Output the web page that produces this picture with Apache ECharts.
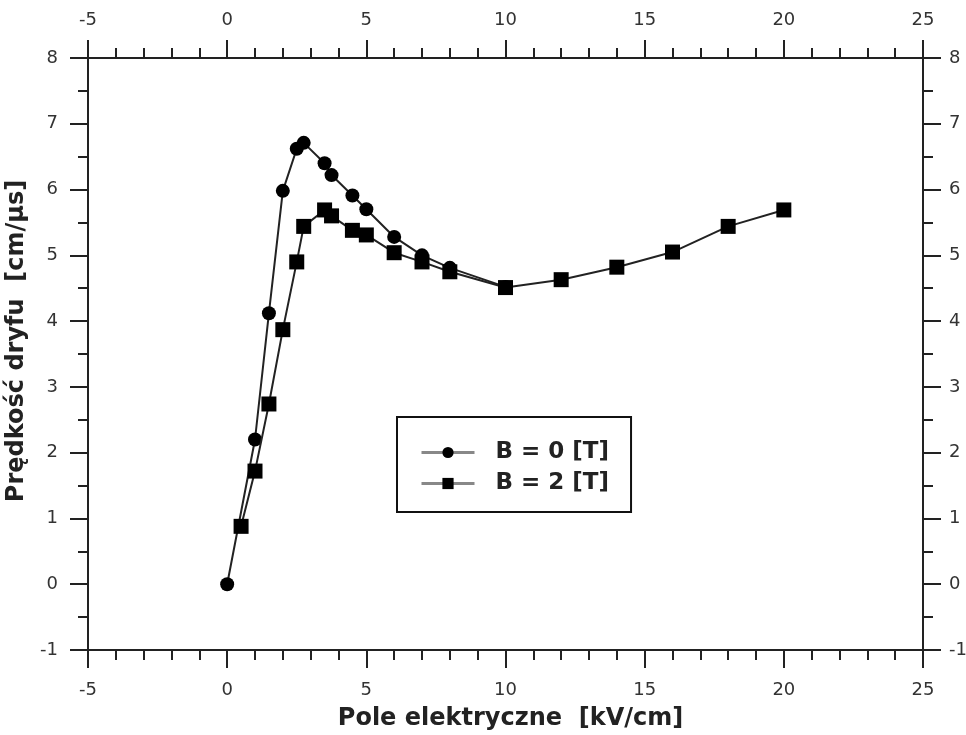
<!DOCTYPE html>
<html>
<head>
<meta charset="utf-8">
<script src="https://cdn.jsdelivr.net/npm/echarts@6/dist/echarts.min.js"></script>
<style>
  html, body { margin: 0; padding: 0; background: #fff; }
  #chart { width: 966px; height: 735px; }
</style>
</head>
<body>
<div id="chart"></div>
<script>
// Electric field [kV/cm] and drift velocity [cm/µs]
const fieldB0 = [0, 1, 1.5, 2, 2.5, 2.75, 3.5, 3.75, 4.5, 5, 6, 7, 8, 10];
const velocityB0 = [0, 2.20, 4.12, 5.98, 6.62, 6.71, 6.40, 6.22, 5.91, 5.70, 5.28, 5.00, 4.81, 4.52];

const fieldB2 = [0.5, 1, 1.5, 2, 2.5, 2.75, 3.5, 3.75, 4.5, 5, 6, 7, 8, 10, 12, 14, 16, 18, 20];
const velocityB2 = [0.88, 1.72, 2.74, 3.87, 4.90, 5.44, 5.69, 5.60, 5.38, 5.31, 5.04, 4.90, 4.75, 4.51, 4.63, 4.82, 5.05, 5.44, 5.69];

const seriesNames = ['B = 0 [T]', 'B = 2 [T]'];
const xTitle = 'Pole elektryczne  [kV/cm]';
const yTitle = 'Prędkość dryfu  [cm/μs]';

const pairs = (xs, ys) => xs.map((x, i) => [x, ys[i]]);

const FONT = 'DejaVu Sans';
const AXIS_COLOR = '#222';

function xAxisDef(position, showName) {
  return {
    type: 'value', position: position, min: -5, max: 25, interval: 5,
    name: showName ? xTitle : '', nameLocation: 'middle', nameGap: 57,
    nameTextStyle: {
      fontFamily: FONT, fontWeight: 'bold', fontSize: 24, color: '#222',
      padding: [0, 0, 0, 10]
    },
    axisLine: { show: true, onZero: false, lineStyle: { color: AXIS_COLOR, width: 2 } },
    axisTick: { show: true, inside: false, length: 18, lineStyle: { color: AXIS_COLOR, width: 2 } },
    minorTick: { show: true, splitNumber: 5, length: 10, lineStyle: { color: AXIS_COLOR, width: 2 } },
    axisLabel: { fontFamily: FONT, fontSize: 18, color: '#333', margin: position === 'bottom' ? 31 : 29 },
    splitLine: { show: false }
  };
}

function yAxisDef(position, showName) {
  return {
    type: 'value', position: position, min: -1, max: 8, interval: 1,
    name: showName ? yTitle : '', nameLocation: 'middle', nameGap: 50,
    nameTextStyle: {
      fontFamily: FONT, fontWeight: 'bold', fontSize: 24, color: '#222',
      padding: [0, 0, 0, 26]
    },
    axisLine: { show: true, onZero: false, lineStyle: { color: AXIS_COLOR, width: 2 } },
    axisTick: { show: true, inside: false, length: 18, lineStyle: { color: AXIS_COLOR, width: 2 } },
    minorTick: { show: true, splitNumber: 2, length: 10, lineStyle: { color: AXIS_COLOR, width: 2 } },
    axisLabel: { fontFamily: FONT, fontSize: 18, color: '#333', margin: position === 'left' ? 30 : 26 },
    splitLine: { show: false }
  };
}

const chart = echarts.init(document.getElementById('chart'), null, { renderer: 'canvas' });

chart.setOption({
  animation: false,
  backgroundColor: '#fff',
  grid: { left: 88, top: 58, right: 43, bottom: 85, containLabel: false, outerBoundsMode: 'none' },
  xAxis: [xAxisDef('bottom', true), xAxisDef('top', false)],
  yAxis: [yAxisDef('left', true), yAxisDef('right', false)],
  legend: {
    orient: 'vertical',
    left: 397, top: 417,
    padding: [24, 22, 17, 23],
    itemGap: 8,
    itemWidth: 53, itemHeight: 14,
    borderColor: '#111', borderWidth: 2,
    backgroundColor: '#fff',
    lineStyle: { color: '#888', width: 3 },
    textStyle: { fontFamily: FONT, fontWeight: 'bold', fontSize: 23, color: '#222', padding: [0, 0, 0, 16] },
    data: seriesNames
  },
  series: [
    {
      name: seriesNames[0], type: 'line',
      data: pairs(fieldB0, velocityB0),
      symbol: 'circle', symbolSize: 14,
      lineStyle: { color: '#222', width: 2 },
      itemStyle: { color: '#000' },
      z: 2
    },
    {
      name: seriesNames[1], type: 'line',
      data: pairs(fieldB2, velocityB2),
      symbol: 'rect', symbolSize: 15,
      lineStyle: { color: '#222', width: 2 },
      itemStyle: { color: '#000' },
      z: 3
    }
  ]
});
</script>
</body>
</html>
